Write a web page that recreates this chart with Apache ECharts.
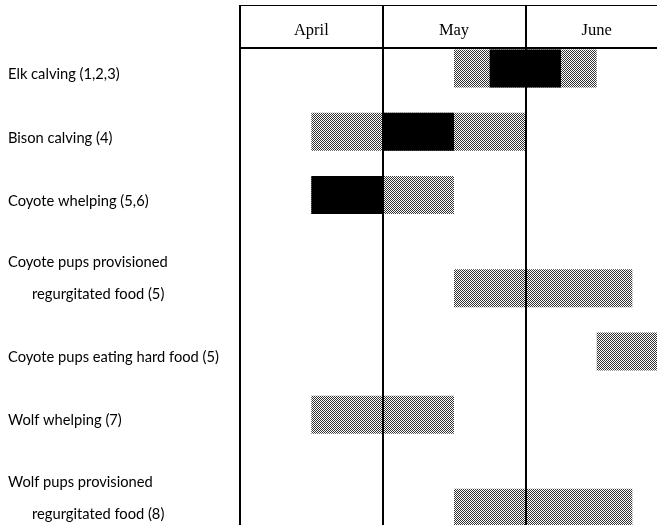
<!DOCTYPE html>
<html>
<head>
<meta charset="utf-8">
<script src="https://cdn.jsdelivr.net/npm/echarts@6/dist/echarts.min.js"></script>
<style>
html,body{margin:0;padding:0;background:#fff;overflow:hidden;width:657px;height:525px;}
#chart{width:668px;height:525px;}
</style>
</head>
<body>
<div id="chart"></div>
<script>
// Row labels (activities)
const activities = [
  'Elk calving (1,2,3)',
  'Bison calving (4)',
  'Coyote whelping (5,6)',
  'Coyote pups provisioned\nregurgitated food (5)',
  'Coyote pups eating hard food (5)',
  'Wolf whelping (7)',
  'Wolf pups provisioned\nregurgitated food (8)'
];
// Header labels
const monthLabels = ['April', 'May', 'June'];
// Time in months: 0 = 1 April, 1 = 1 May, 2 = 1 June, 3 = 1 July
// Full range of each activity (grey)
const rangeStart = [1.5, 0.5, 0.5, 1.5, 2.5, 0.5, 1.5];
const rangeEnd   = [2.5, 2.0, 1.5, 2.75, 3.0, 1.5, 2.75];
// Peak period (black), null where none
const peakStart = [1.75, 1.0, 0.5, null, null, null, null];
const peakEnd   = [2.25, 1.5, 1.0, null, null, null, null];

// Row layout: two-line labels take extra room
const rowPos = [];
(function () {
  let p = 0;
  activities.forEach((a, i) => {
    if (i > 0) p += 1;
    if (a.indexOf('\n') >= 0) p += 0.47;
    rowPos.push(p);
  });
})();

// Dither-like grey pattern
const pat = document.createElement('canvas');
pat.width = 2; pat.height = 2;
(function () {
  const c = pat.getContext('2d');
  c.fillStyle = '#ffffff'; c.fillRect(0, 0, 2, 2);
  c.fillStyle = '#333333'; c.fillRect(0, 0, 1, 1); c.fillRect(1, 1, 1, 1);
})();
const greyFill = { image: pat, repeat: 'repeat' };

const barThickness = 0.6;

function renderItem(params, api) {
  const i = params.dataIndex;
  const y = rowPos[i];
  const h = api.size([0, barThickness])[1];
  const children = [];
  const rect = (a, b, fill) => {
    const p0 = api.coord([a, y]);
    const p1 = api.coord([b, y]);
    return { type: 'rect', shape: { x: p0[0], y: p0[1] - h / 2 + 0.5, width: p1[0] - p0[0], height: h }, style: { fill: fill } };
  };
  children.push(rect(rangeStart[i], rangeEnd[i], greyFill));
  if (peakStart[i] != null) children.push(rect(peakStart[i], peakEnd[i], '#000'));
  const cy = api.coord([0, y])[1];
  const lines = activities[i].split('\n');
  lines.forEach((ln, k) => {
    children.push({
      type: 'text',
      style: {
        text: ln,
        x: 8 + (k > 0 ? 24 : 0),
        y: cy + 6.5 - (lines.length - 1 - k) * 31.5,
        fill: '#000',
        fontSize: 14.7,
        fontFamily: 'Lato',
        verticalAlign: 'middle',
        align: 'left'
      }
    });
  });
  return { type: 'group', children: children };
}

const chart = echarts.init(document.getElementById('chart'), null, { renderer: 'canvas' });
chart.setOption({
  animation: false,
  backgroundColor: '#fff',
  grid: { left: 240, right: 0, top: 48, bottom: 0 },
  xAxis: [
    {
      type: 'value', min: 0, max: 3, interval: 1, position: 'top', z: 5,
      axisLine: { show: false }, axisTick: { show: false }, axisLabel: { show: false },
      splitLine: { show: true, lineStyle: { color: '#000', width: 2 } }
    },
    {
      type: 'category', data: monthLabels, position: 'top', boundaryGap: true,
      axisLine: { show: true, lineStyle: { color: '#000', width: 2 } },
      axisTick: { show: true, length: 43, interval: 0, lineStyle: { color: '#000', width: 2 } },
      axisLabel: { margin: 17, verticalAlign: 'middle', fontFamily: 'Liberation Serif', fontSize: 16.5, color: '#000' },
      splitLine: { show: false }
    },
    {
      type: 'value', min: 0, max: 3, position: 'top', offset: 43,
      axisLine: { show: true, lineStyle: { color: '#000', width: 1.2 } },
      axisTick: { show: false }, axisLabel: { show: false }, splitLine: { show: false }
    }
  ],
  yAxis: { type: 'value', inverse: true, min: -0.316, max: 7.22, show: false },
  series: [{
    type: 'custom',
    renderItem: renderItem,
    encode: { x: 0, y: 1 },
    data: activities.map((_, i) => [rangeStart[i], rowPos[i]])
  }]
});
</script>
</body>
</html>
